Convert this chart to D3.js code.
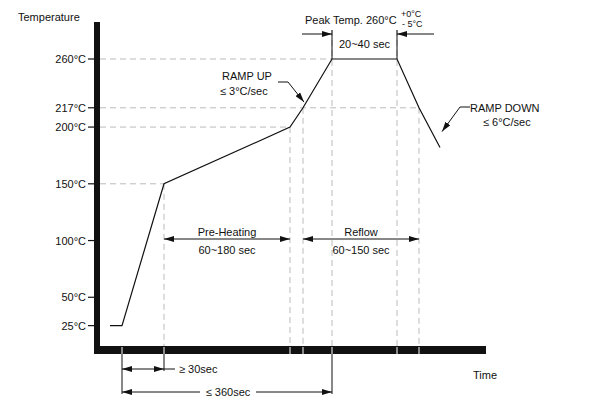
<!DOCTYPE html>
<html><head><meta charset="utf-8">
<script src="https://cdn.jsdelivr.net/npm/d3@7"></script>
<style>body{margin:0;background:#fff}text{font-family:"Liberation Sans",Arial,sans-serif;font-size:11px;fill:#111}</style>
</head><body><div id="chart"></div>
<script>
// Reflow profile (time in arbitrary chart units, temperature in °C)
const profileTimes = [10, 22, 64, 190, 203, 232, 297, 319, 340];
const profileTemps = [25, 25, 150, 200, 217, 260, 260, 217, 182];
const tempTicks = [25, 50, 100, 150, 200, 217, 260];
const timeTicks = [22, 64, 190, 203, 232, 297, 319];

const W = 611, H = 401;
const x = d3.scaleLinear().domain([0, 386]).range([100, 486]);
const y = d3.scaleLinear().domain([0, 260]).range([354, 59]);

const svg = d3.select('#chart').append('svg').attr('width', W).attr('height', H);
const defs = svg.append('defs');
defs.append('marker').attr('id', 'arr').attr('viewBox', '0 0 10 6').attr('refX', 10).attr('refY', 3)
  .attr('markerWidth', 10).attr('markerHeight', 6).attr('markerUnits', 'userSpaceOnUse').attr('orient', 'auto-start-reverse')
  .append('path').attr('d', 'M0,0L10,3L0,6Z').attr('fill', '#111');

const P = (i) => [x(profileTimes[i]), y(profileTemps[i])];
const dash = { stroke: '#bbb', 'stroke-dasharray': '6,4', 'stroke-width': 1 };
function line(x1, y1, x2, y2, attrs) {
  const l = svg.append('line').attr('x1', x1).attr('y1', y1).attr('x2', x2).attr('y2', y2).attr('stroke', '#111').attr('stroke-width', 1);
  Object.entries(attrs || {}).forEach(([k, v]) => l.attr(k, v));
  return l;
}
function text(t, tx, ty, anchor) {
  return svg.append('text').attr('x', tx).attr('y', ty).attr('text-anchor', anchor || 'start').text(t);
}

// Horizontal guide lines
line(x(0), y(260), P(5)[0], y(260), dash);
line(x(0), y(217), P(7)[0], y(217), dash);
line(x(0), y(200), P(3)[0], y(200), dash);
line(x(0), y(150), P(2)[0], y(150), dash);
// Vertical guide lines
[2, 3, 4, 7].forEach(i => line(P(i)[0], P(i)[1], P(i)[0], 346, dash));
line(P(5)[0], 30, P(5)[0], 346, dash);
line(P(6)[0], 30, P(6)[0], 346, dash);

// Profile curve
svg.append('path').datum(profileTimes.map((t, i) => [x(t), y(profileTemps[i])]))
  .attr('d', d3.line()).attr('fill', 'none').attr('stroke', '#111').attr('stroke-width', 1.2);

// Axes (thick)
svg.append('rect').attr('x', 94).attr('y', 22).attr('width', 6).attr('height', 332).attr('fill', '#111');
svg.append('rect').attr('x', 94).attr('y', 346).attr('width', 392).attr('height', 8).attr('fill', '#111');
tempTicks.forEach(t => {
  line(88, y(t), 94, y(t), { 'stroke-width': 1.2 });
  text(`${t}°C`, 86, y(t) + 4, 'end');
});
timeTicks.forEach(t => line(x(t), 347, x(t), 354, { stroke: '#fff', 'stroke-width': 1 }));
text('Temperature', 18, 21);
text('Time', 473, 379);

// Peak annotation
text('Peak Temp. 260°C', 305, 24);
svg.append('text').attr('x', 401).attr('y', 17).style('font-size', '9px').text('+0°C');
svg.append('text').attr('x', 402).attr('y', 27).style('font-size', '9px').text('- 5°C');
line(P(5)[0], 30, P(5)[0], y(260));
line(P(6)[0], 30, P(6)[0], y(260));
line(302, 34, P(5)[0], 34, { 'marker-end': 'url(#arr)' });
line(434, 34, P(6)[0], 34, { 'marker-end': 'url(#arr)' });
text('20~40 sec', (P(5)[0] + P(6)[0]) / 2, 48, 'middle');

// Ramp up / down
text('RAMP UP', 222, 80);
text('≤ 3°C/sec', 220, 95);
svg.append('path').attr('d', `M278,82L288,82L304,${y(222)}`).attr('fill', 'none').attr('stroke', '#111').attr('marker-end', 'url(#arr)');
text('RAMP DOWN', 470, 112);
text('≤ 6°C/sec', 483, 126);
svg.append('path').attr('d', `M470,107L460,107L442,${y(196)}`).attr('fill', 'none').attr('stroke', '#111').attr('marker-end', 'url(#arr)');

// Phase spans
line(P(2)[0], 239, P(3)[0], 239, { 'marker-start': 'url(#arr)', 'marker-end': 'url(#arr)' });
text('Pre-Heating', (P(2)[0] + P(3)[0]) / 2, 236, 'middle');
text('60~180 sec', (P(2)[0] + P(3)[0]) / 2, 254, 'middle');
line(P(4)[0], 239, P(7)[0], 239, { 'marker-start': 'url(#arr)', 'marker-end': 'url(#arr)' });
text('Reflow', (P(4)[0] + P(7)[0]) / 2, 236, 'middle');
text('60~150 sec', (P(4)[0] + P(7)[0]) / 2, 254, 'middle');

// Bottom dimensions
line(P(1)[0], 354, P(1)[0], 394);
line(P(2)[0], 354, P(2)[0], 371);
line(P(5)[0], 354, P(5)[0], 394);
line(P(1)[0], 369, P(2)[0], 369, { 'marker-start': 'url(#arr)', 'marker-end': 'url(#arr)' });
line(P(2)[0], 369, 175, 369);
text('≥ 30sec', 179, 373);
line(P(1)[0], 392, 200, 392, { 'marker-start': 'url(#arr)' });
text('≤ 360sec', 228, 396, 'middle');
line(256, 392, P(5)[0], 392, { 'marker-end': 'url(#arr)' });
</script></body></html>
